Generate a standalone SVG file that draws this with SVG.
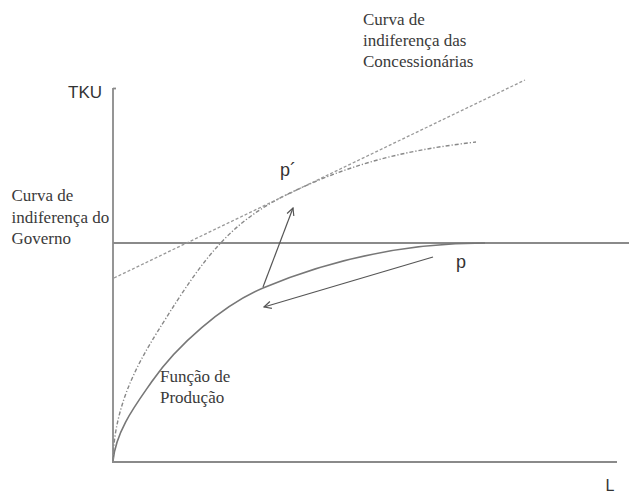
<svg xmlns="http://www.w3.org/2000/svg" width="629" height="492" viewBox="0 0 629 492">
  <defs>
    <style>
      .serif { font-size: 17px; fill: #3a3a3a; }
      .sans { fill: #333; }
      .axis { stroke: #8a8a8a; stroke-width: 1.8; fill: none; }
      .curve { stroke: #777; stroke-width: 1.6; fill: none; }
      .dashed { stroke: #999; stroke-width: 1.3; fill: none; stroke-dasharray: 3 2; }
      .dashdot { stroke: #888; stroke-width: 1.4; fill: none; stroke-dasharray: 4 2 1.2 2; }
      .arrow { stroke: #555; stroke-width: 1.2; fill: none; }
    </style>
    <marker id="open" viewBox="0 0 10 10" refX="9" refY="5" markerWidth="9" markerHeight="9" markerUnits="userSpaceOnUse" orient="auto">
      <path d="M1,1 L9,5 L1,9" fill="none" stroke="#555" stroke-width="1.3"/>
    </marker>
  </defs>
  <rect width="629" height="492" fill="#fff"/>

  <g id="axes">
    <line class="axis" x1="113" y1="88" x2="113" y2="462"/>
    <line class="axis" x1="113" y1="88.5" x2="116" y2="88.5" stroke-width="1"/>
    <line class="axis" x1="112" y1="462" x2="617" y2="462"/>
    <line class="axis" x1="113" y1="243" x2="629" y2="243"/>
  </g>

  <g id="funcao-producao" font-family="'Liberation Serif', 'DejaVu Serif', serif">
    <path class="curve" d="M113,461 C116,430 136.7,403.5 151.7,381.7 C176.7,345.45 223,304.8 263,288 C318,264.9 395,243 485,243"/>
    <text class="serif" x="160" y="382">Função de</text>
    <text class="serif" x="160" y="402.5">Produção</text>
  </g>

  <g id="curva-governo" font-family="'Liberation Serif', 'DejaVu Serif', serif">
    <path class="dashdot" d="M113,461 C114,400 143.7,353.8 161.7,325 C203.7,257.8 230,221.9 290,193 C360,159.3 416,149.2 476,142"/>
    <text class="serif" x="11.5" y="201">Curva de</text>
    <text class="serif" x="11.5" y="222.5">indiferença do</text>
    <text class="serif" x="11.5" y="244">Governo</text>
  </g>

  <g id="curva-concessionarias" font-family="'Liberation Serif', 'DejaVu Serif', serif">
    <line class="dashed" x1="114" y1="278" x2="525" y2="80"/>
    <text class="serif" x="363" y="25">Curva de</text>
    <text class="serif" x="363" y="46">indiferença das</text>
    <text class="serif" x="363" y="66.5">Concessionárias</text>
  </g>

  <g id="ponto-p" font-family="'Liberation Sans', Arial, sans-serif">
    <text class="sans" x="456" y="268" font-size="18">p</text>
  </g>
  <g id="ponto-p-linha" font-family="'Liberation Sans', Arial, sans-serif">
    <text class="sans" x="280" y="176" font-size="18">p´</text>
  </g>

  <g id="labels" font-family="'Liberation Sans', Arial, sans-serif">
    <text class="sans" x="68" y="98" font-size="17">TKU</text>
    <text class="sans" x="605.5" y="491" font-size="16">L</text>
  </g>

  <g id="connectors">
    <line class="arrow" x1="263" y1="287" x2="293" y2="208" marker-end="url(#open)"/>
    <line class="arrow" x1="433" y1="257" x2="264" y2="307" marker-end="url(#open)"/>
  </g>
</svg>
